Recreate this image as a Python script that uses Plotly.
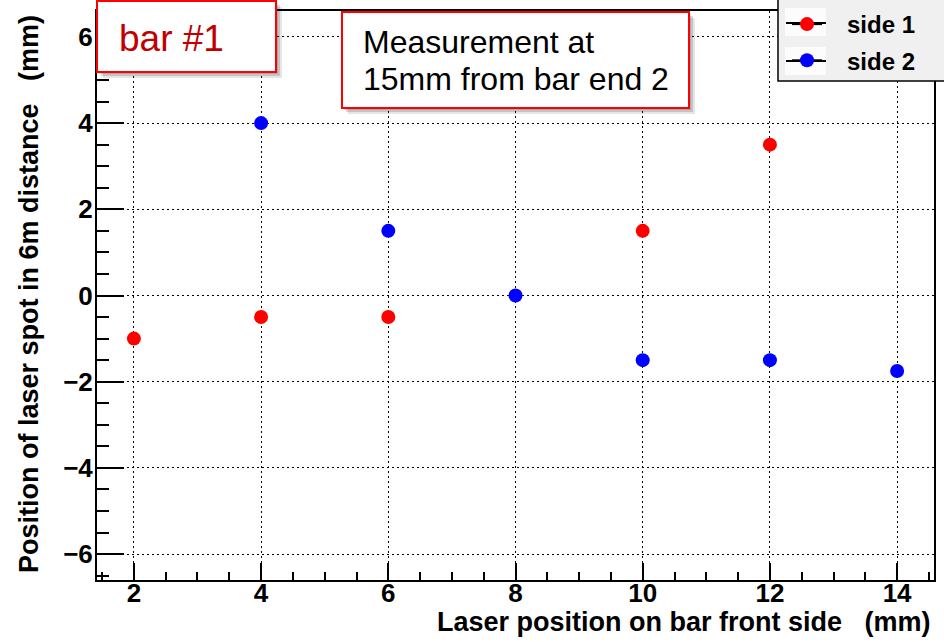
import plotly.graph_objects as go

# ---- data ----
side1_x = [2, 4, 6, 10, 12]
side1_y = [-1, -0.5, -0.5, 1.5, 3.5]
side2_x = [4, 6, 8, 10, 12, 14]
side2_y = [4, 1.5, 0, -1.5, -1.5, -1.75]
x_ticks = [2, 4, 6, 8, 10, 12, 14]
y_ticks = [-6, -4, -2, 0, 2, 4, 6]
series_names = ["side 1", "side 2"]
series_colors = ["#ff0000", "#0000ff"]
x_title = "Laser position on bar front side   (mm)"
y_title = "Position of laser spot in 6m distance   (mm)"
label_bar = "bar #1"
label_meas = ["Measurement at", "15mm from bar end 2"]

# ---- layout geometry (pixels) ----
W, H = 944, 642
L, R, T, B = 97, 10, 11, 62
PW, PH = W - L - R, H - T - B


def px(x):
    return (x - L) / PW


def py(y):
    return (H - B - y) / PH


FONT = "Liberation Sans"
NB = "\u00a0"

fig = go.Figure()

for xs, ys, name, col in [(side1_x, side1_y, series_names[0], series_colors[0]),
                          (side2_x, side2_y, series_names[1], series_colors[1])]:
    fig.add_trace(go.Scatter(x=xs, y=ys, mode="markers", name=name, showlegend=False,
                             marker=dict(color=col, size=14, line=dict(width=0))))

# legend entries (line + marker, as in the original legend)
for i, (name, col) in enumerate(zip(series_names, series_colors)):
    fig.add_trace(go.Scatter(x=[None], y=[None], mode="lines+markers", name=NB * 3 + name,
                             legendgroup="g%d" % i,
                             line=dict(color="black", width=2),
                             marker=dict(color=col, size=14, line=dict(width=0))))

axis_common = dict(
    showline=True, linewidth=2, linecolor="black", mirror=True,
    ticks="inside", tickwidth=2, tickcolor="black",
    showgrid=True, gridcolor="black", gridwidth=1, griddash="2px,3px",
    zeroline=False,
    tickfont=dict(family=FONT, size=26, color="black", weight="bold"),
)

fig.update_xaxes(range=[1.42, 14.58], tickvals=x_ticks, ticklen=17,
                 ticklabelstandoff=-11,
                 minor=dict(ticks="inside", ticklen=8, tickwidth=2, tickcolor="black",
                            dtick=0.5, tick0=0, showgrid=False),
                 **axis_common)
fig.update_yaxes(range=[-6.6, 6.6], tickvals=y_ticks, ticklen=27,
                 ticklabelstandoff=-3,
                 minor=dict(ticks="inside", ticklen=12, tickwidth=2, tickcolor="black",
                            dtick=0.5, tick0=0, showgrid=False),
                 **axis_common)

shapes = []
# legend box
shapes.append(dict(type="rect", xref="paper", yref="paper", layer="above",
                   x0=px(778), x1=px(960), y0=py(81), y1=py(-10),
                   fillcolor="#f0f0f0", line=dict(color="black", width=1.5)))
for (y0, y1, yc) in [(8, 36, 23), (47, 75, 61)]:
    shapes.append(dict(type="rect", xref="paper", yref="paper", layer="above",
                       x0=px(785), x1=px(826), y0=py(y1), y1=py(y0),
                       fillcolor="#fcfcfc", line=dict(width=0)))
    shapes.append(dict(type="line", xref="paper", yref="paper", layer="above",
                       x0=px(786), x1=px(826), y0=py(yc), y1=py(yc),
                       line=dict(color="black", width=2)))


def box(x0, y0, x1, y1):
    for off, a in [(6, 0.10), (4, 0.14), (2, 0.14)]:
        shapes.append(dict(type="rect", xref="paper", yref="paper", layer="above",
                           x0=px(x0 + off), x1=px(x1 + off), y0=py(y1 + off), y1=py(y0 + off),
                           fillcolor="rgba(0,0,0,%g)" % a, line=dict(width=0)))
    shapes.append(dict(type="rect", xref="paper", yref="paper", layer="above",
                       x0=px(x0), x1=px(x1), y0=py(y1), y1=py(y0),
                       fillcolor="white", line=dict(color="#ff0000", width=2)))


box(97, 1, 276, 72)
box(342, 12, 689, 108)

annotations = [
    dict(text=label_bar, xref="paper", yref="paper", x=px(117), y=py(39),
         xanchor="left", yanchor="middle", showarrow=False,
         font=dict(family=FONT, size=37, color="#c00000")),
    dict(text=label_meas[0], xref="paper", yref="paper", x=px(361), y=py(42),
         xanchor="left", yanchor="middle", showarrow=False,
         font=dict(family=FONT, size=32, color="black")),
    dict(text=label_meas[1], xref="paper", yref="paper", x=px(361), y=py(79),
         xanchor="left", yanchor="middle", showarrow=False,
         font=dict(family=FONT, size=32, color="black")),
    dict(text=x_title, xref="paper", yref="paper", x=px(933), y=py(622),
         xanchor="right", yanchor="middle", showarrow=False,
         font=dict(family=FONT, size=27, color="black", weight="bold")),
    dict(text=y_title, xref="paper", yref="paper", x=px(29), y=py(13),
         xanchor="center", yanchor="top", textangle=-90, showarrow=False,
         font=dict(family=FONT, size=27, color="black", weight="bold")),
]

fig.update_layout(
    width=W, height=H, autosize=False,
    margin=dict(l=L, r=R, t=T, b=B, pad=0, autoexpand=False),
    paper_bgcolor="white", plot_bgcolor="white",
    shapes=shapes, annotations=annotations,
    legend=dict(x=px(787), y=py(2), xanchor="left", yanchor="top",
                bgcolor="rgba(0,0,0,0)", borderwidth=0, tracegroupgap=2,
                font=dict(family=FONT, size=24, color="black", weight="bold")),
)

fig.write_html("out.html")
